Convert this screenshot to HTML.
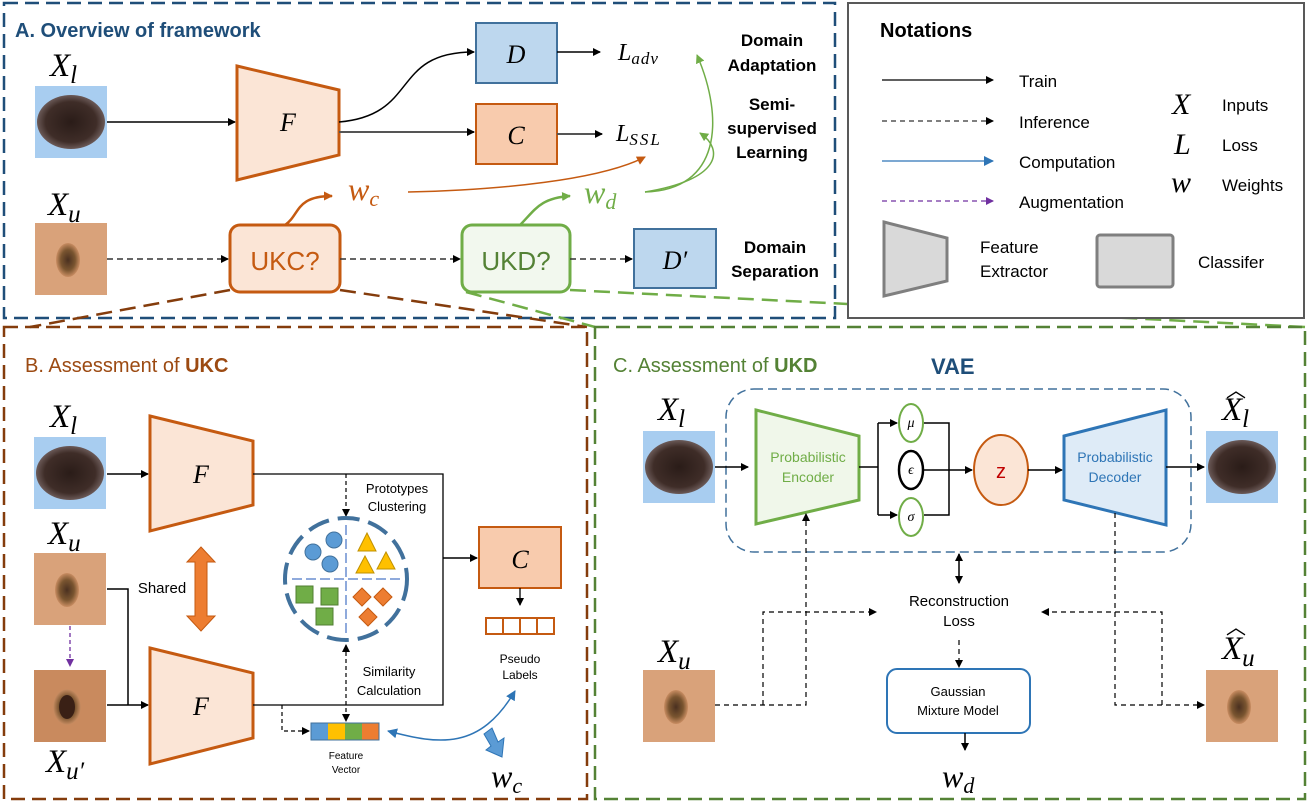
<!DOCTYPE html>
<html><head><meta charset="utf-8"><style>
html,body{margin:0;padding:0;background:#fff;}
svg{display:block;font-family:"Liberation Sans",sans-serif;}
.m{font-family:"Liberation Serif",serif;font-style:italic;}
</style></head><body>
<svg width="1308" height="804" viewBox="0 0 1308 804" xmlns="http://www.w3.org/2000/svg">
<defs>
<marker id="ak" markerWidth="8" markerHeight="8" refX="7" refY="4" orient="auto" markerUnits="userSpaceOnUse"><path d="M0,0 L8,4 L0,8 z" fill="#000"/></marker>
<marker id="akr" markerWidth="8" markerHeight="8" refX="1" refY="4" orient="auto" markerUnits="userSpaceOnUse"><path d="M8,0 L0,4 L8,8 z" fill="#000"/></marker>
<marker id="ab" markerWidth="10" markerHeight="10" refX="9" refY="5" orient="auto" markerUnits="userSpaceOnUse"><path d="M0,0 L10,5 L0,10 z" fill="#2e75b6"/></marker>
<marker id="abr" markerWidth="10" markerHeight="10" refX="1" refY="5" orient="auto" markerUnits="userSpaceOnUse"><path d="M10,0 L0,5 L10,10 z" fill="#2e75b6"/></marker>
<marker id="ap" markerWidth="8" markerHeight="8" refX="7" refY="4" orient="auto" markerUnits="userSpaceOnUse"><path d="M0,0 L8,4 L0,8 z" fill="#7030a0"/></marker>
<marker id="ao" markerWidth="9" markerHeight="9" refX="8" refY="4.5" orient="auto" markerUnits="userSpaceOnUse"><path d="M0,0 L9,4.5 L0,9 z" fill="#c55a11"/></marker>
<marker id="ag" markerWidth="9" markerHeight="9" refX="8" refY="4.5" orient="auto" markerUnits="userSpaceOnUse"><path d="M0,0 L9,4.5 L0,9 z" fill="#70ad47"/></marker>
<radialGradient id="mole" cx="50%" cy="50%" r="50%"><stop offset="0" stop-color="#2a1c18"/><stop offset="0.75" stop-color="#3f2d28"/><stop offset="1" stop-color="#6b5a58"/></radialGradient>
<radialGradient id="spot" cx="50%" cy="50%" r="50%"><stop offset="0" stop-color="#4a3020"/><stop offset="0.6" stop-color="#7a5530"/><stop offset="1" stop-color="#c98d62"/></radialGradient>
<g id="lim"><rect width="72" height="72" fill="#a8cdf0"/><ellipse cx="36" cy="36" rx="34" ry="27" fill="url(#mole)"/></g>
<g id="uim"><rect width="72" height="72" fill="#d9a27a"/><ellipse cx="33" cy="37" rx="12" ry="17" fill="url(#spot)"/></g>
<g id="u2im"><rect width="72" height="72" fill="#c98a5e"/><ellipse cx="33" cy="37" rx="14" ry="18" fill="url(#spot)"/><ellipse cx="33" cy="37" rx="8" ry="12" fill="#3a2015"/></g>
</defs>

<!-- Panel A -->
<rect x="4" y="3" width="831" height="315" fill="none" stroke="#1f4e79" stroke-width="2.5" stroke-dasharray="14,7"/>
<text x="15" y="37" font-size="20" font-weight="bold" fill="#1f4e79">A. Overview of framework</text>
<text class="m" x="50" y="76" font-size="33">X<tspan font-size="25" dy="7">l</tspan></text>
<use href="#lim" x="35" y="86"/>
<line x1="107" y1="122" x2="235" y2="122" stroke="#000" stroke-width="1.5" marker-end="url(#ak)"/>
<polygon points="237,66 339,90 339,155 237,180" fill="#fbe5d6" stroke="#c55a11" stroke-width="3"/>
<text class="m" x="288" y="131" font-size="26" text-anchor="middle">F</text>
<path d="M339,122 C420,115 390,52 474,52" fill="none" stroke="#000" stroke-width="1.5" marker-end="url(#ak)"/>
<line x1="339" y1="132" x2="474" y2="132" stroke="#555" stroke-width="2" marker-end="url(#ak)"/>
<rect x="476" y="23" width="81" height="60" fill="#bdd7ee" stroke="#41719c" stroke-width="2"/>
<text class="m" x="516" y="63" font-size="26" text-anchor="middle">D</text>
<rect x="476" y="104" width="81" height="60" fill="#f8cbad" stroke="#c55a11" stroke-width="2"/>
<text class="m" x="516" y="144" font-size="26" text-anchor="middle">C</text>
<line x1="557" y1="52" x2="600" y2="52" stroke="#000" stroke-width="1.5" marker-end="url(#ak)"/>
<line x1="557" y1="134" x2="602" y2="134" stroke="#555" stroke-width="2" marker-end="url(#ak)"/>
<text class="m" x="618" y="60" font-size="24">L<tspan font-size="17" dy="4" letter-spacing="1">adv</tspan></text>
<text class="m" x="616" y="141" font-size="24">L<tspan font-size="17" dy="4" letter-spacing="2">SSL</tspan></text>
<g font-size="17" font-weight="bold" text-anchor="middle">
<text x="772" y="46">Domain</text><text x="772" y="71">Adaptation</text>
<text x="772" y="110">Semi-</text><text x="772" y="134">supervised</text><text x="772" y="158">Learning</text>
<text x="775" y="253">Domain</text><text x="775" y="277">Separation</text>
</g>
<text class="m" x="48" y="215" font-size="33">X<tspan font-size="25" dy="7">u</tspan></text>
<use href="#uim" x="35" y="223"/>
<line x1="107" y1="259" x2="228" y2="259" stroke="#333" stroke-width="1.5" stroke-dasharray="6,4" marker-end="url(#ak)"/>
<rect x="230" y="225" width="110" height="67" rx="10" fill="#fbe5d6" stroke="#c55a11" stroke-width="3"/>
<text x="285" y="270" font-size="26" fill="#c55a11" text-anchor="middle">UKC?</text>
<line x1="340" y1="259" x2="460" y2="259" stroke="#333" stroke-width="1.5" stroke-dasharray="6,4" marker-end="url(#ak)"/>
<rect x="462" y="225" width="108" height="67" rx="10" fill="#f2f8ee" stroke="#70ad47" stroke-width="3"/>
<text x="516" y="270" font-size="26" fill="#548235" text-anchor="middle">UKD?</text>
<line x1="570" y1="259" x2="632" y2="259" stroke="#333" stroke-width="1.5" stroke-dasharray="6,4" marker-end="url(#ak)"/>
<rect x="634" y="229" width="82" height="59" fill="#bdd7ee" stroke="#41719c" stroke-width="2"/>
<text class="m" x="675" y="269" font-size="26" text-anchor="middle">D′</text>
<path d="M285,225 C300,215 295,196 332,196" fill="none" stroke="#c55a11" stroke-width="2.5" marker-end="url(#ao)"/>
<text class="m" x="348" y="200" font-size="32" fill="#c55a11">w<tspan font-size="22" dy="6">c</tspan></text>
<path d="M408,192 C500,190 600,180 645,157" fill="none" stroke="#c55a11" stroke-width="1.5" marker-end="url(#ao)"/>
<path d="M520,225 C535,210 540,198 570,196" fill="none" stroke="#70ad47" stroke-width="2.5" marker-end="url(#ag)"/>
<text class="m" x="584" y="203" font-size="32" fill="#70ad47">w<tspan font-size="22" dy="6">d</tspan></text>
<path d="M645,192 C720,190 725,120 697,55" fill="none" stroke="#70ad47" stroke-width="1.5" marker-end="url(#ag)"/>
<path d="M645,192 C720,180 725,150 700,133" fill="none" stroke="#70ad47" stroke-width="1.5" marker-end="url(#ag)"/>

<!-- connectors -->
<line x1="230" y1="290" x2="30" y2="327" stroke="#843c0c" stroke-width="2.5" stroke-dasharray="16,8"/>
<line x1="340" y1="290" x2="587" y2="327" stroke="#843c0c" stroke-width="2.5" stroke-dasharray="16,8"/>
<line x1="466" y1="292" x2="595" y2="327" stroke="#70ad47" stroke-width="2.5" stroke-dasharray="16,8"/>
<line x1="570" y1="290" x2="1305" y2="327" stroke="#70ad47" stroke-width="2.5" stroke-dasharray="16,8"/>

<!-- Notations -->
<rect x="848" y="3" width="456" height="315" fill="#fff" stroke="#595959" stroke-width="2"/>
<text x="880" y="37" font-size="20" font-weight="bold">Notations</text>
<line x1="882" y1="80" x2="993" y2="80" stroke="#000" stroke-width="1.3" marker-end="url(#ak)"/>
<line x1="882" y1="121" x2="993" y2="121" stroke="#333" stroke-width="1.3" stroke-dasharray="5,4" marker-end="url(#ak)"/>
<line x1="882" y1="161" x2="993" y2="161" stroke="#2e75b6" stroke-width="1.3" marker-end="url(#ab)"/>
<line x1="882" y1="201" x2="993" y2="201" stroke="#7030a0" stroke-width="1.3" stroke-dasharray="5,4" marker-end="url(#ap)"/>
<g font-size="17"><text x="1019" y="87">Train</text><text x="1019" y="128">Inference</text><text x="1019" y="168">Computation</text><text x="1019" y="208">Augmentation</text>
<text x="1222" y="111">Inputs</text><text x="1222" y="151">Loss</text><text x="1222" y="191">Weights</text>
<text x="980" y="253">Feature</text><text x="980" y="277">Extractor</text><text x="1198" y="268">Classifer</text></g>
<g class="m" font-size="30"><text x="1172" y="114">X</text><text x="1174" y="154">L</text><text x="1171" y="192">w</text></g>
<polygon points="884,222 947,238 947,281 884,296" fill="#d9d9d9" stroke="#7f7f7f" stroke-width="3"/>
<rect x="1097" y="235" width="76" height="52" rx="3" fill="#d9d9d9" stroke="#7f7f7f" stroke-width="3"/>

<!-- Panel B -->
<rect x="4" y="327" width="583" height="472" fill="none" stroke="#843c0c" stroke-width="2.5" stroke-dasharray="14,7"/>
<text x="25" y="372" font-size="20" fill="#9c4a12">B. Assessment of <tspan font-weight="bold">UKC</tspan></text>
<text class="m" x="50" y="427" font-size="33">X<tspan font-size="25" dy="7">l</tspan></text>
<use href="#lim" x="34" y="437"/>
<text class="m" x="48" y="544" font-size="33">X<tspan font-size="25" dy="7">u</tspan></text>
<use href="#uim" x="34" y="553"/>
<line x1="70" y1="626" x2="70" y2="666" stroke="#7030a0" stroke-width="1.3" stroke-dasharray="4,3" marker-end="url(#ap)"/>
<use href="#u2im" x="34" y="670"/>
<text class="m" x="46" y="772" font-size="33">X<tspan font-size="25" dy="7">u′</tspan></text>
<line x1="107" y1="474" x2="148" y2="474" stroke="#000" stroke-width="1.5" marker-end="url(#ak)"/>
<polyline points="107,589 128,589 128,705" fill="none" stroke="#000" stroke-width="1.5"/>
<line x1="107" y1="705" x2="148" y2="705" stroke="#000" stroke-width="1.5" marker-end="url(#ak)"/>
<polygon points="150,416 253,441 253,505 150,531" fill="#fbe5d6" stroke="#c55a11" stroke-width="3"/>
<text class="m" x="201" y="483" font-size="26" text-anchor="middle">F</text>
<polygon points="150,648 253,673 253,738 150,764" fill="#fbe5d6" stroke="#c55a11" stroke-width="3"/>
<text class="m" x="201" y="715" font-size="26" text-anchor="middle">F</text>
<polygon points="201,547 215,562 207,562 207,616 215,616 201,631 187,616 195,616 195,562 187,562" fill="#ed7d31" stroke="#c55a11" stroke-width="1"/>
<text x="162" y="593" font-size="15" text-anchor="middle">Shared</text>
<polyline points="253,474 443,474 443,705 253,705" fill="none" stroke="#000" stroke-width="1.3"/>
<line x1="443" y1="558" x2="477" y2="558" stroke="#000" stroke-width="1.5" marker-end="url(#ak)"/>
<rect x="479" y="527" width="82" height="61" fill="#f8cbad" stroke="#c55a11" stroke-width="2"/>
<text class="m" x="520" y="568" font-size="26" text-anchor="middle">C</text>
<line x1="520" y1="588" x2="520" y2="605" stroke="#000" stroke-width="1.3" marker-end="url(#ak)"/>
<g fill="#fff" stroke="#c55a11" stroke-width="2"><rect x="486" y="618" width="17" height="16"/><rect x="503" y="618" width="17" height="16"/><rect x="520" y="618" width="17" height="16"/><rect x="537" y="618" width="17" height="16"/></g>
<text x="520" y="663" font-size="12" text-anchor="middle">Pseudo</text><text x="520" y="679" font-size="12" text-anchor="middle">Labels</text>
<line x1="346" y1="474" x2="346" y2="516" stroke="#000" stroke-width="1.2" stroke-dasharray="4,3" marker-end="url(#ak)"/>
<text x="397" y="493" font-size="13" text-anchor="middle">Prototypes</text><text x="397" y="511" font-size="13" text-anchor="middle">Clustering</text>
<circle cx="346" cy="579" r="61" fill="none" stroke="#41719c" stroke-width="4" stroke-dasharray="22,9"/>
<line x1="292" y1="579" x2="400" y2="579" stroke="#8faadc" stroke-width="2" stroke-dasharray="10,4"/>
<line x1="346" y1="525" x2="346" y2="633" stroke="#8faadc" stroke-width="2" stroke-dasharray="10,4"/>
<g fill="#5b9bd5" stroke="#41719c" stroke-width="1"><circle cx="313" cy="552" r="8"/><circle cx="334" cy="540" r="8"/><circle cx="330" cy="564" r="8"/></g>
<g fill="#ffc000" stroke="#bf9000" stroke-width="1"><polygon points="367,533 376,551 358,551"/><polygon points="365,556 374,573 356,573"/><polygon points="386,552 395,569 377,569"/></g>
<g fill="#70ad47" stroke="#507e32" stroke-width="1"><rect x="296" y="586" width="17" height="17"/><rect x="321" y="588" width="17" height="17"/><rect x="316" y="608" width="17" height="17"/></g>
<g fill="#ed7d31" stroke="#c55a11" stroke-width="1"><polygon points="362,588 371,597 362,606 353,597"/><polygon points="383,588 392,597 383,606 374,597"/><polygon points="368,608 377,617 368,626 359,617"/></g>
<line x1="346" y1="645" x2="346" y2="721" stroke="#000" stroke-width="1.2" stroke-dasharray="4,3" marker-start="url(#akr)" marker-end="url(#ak)"/>
<text x="389" y="676" font-size="13" text-anchor="middle">Similarity</text><text x="389" y="695" font-size="13" text-anchor="middle">Calculation</text>
<polyline points="282,705 282,731 309,731" fill="none" stroke="#000" stroke-width="1.2" stroke-dasharray="4,3" marker-end="url(#ak)"/>
<rect x="311" y="723" width="17" height="17" fill="#5b9bd5"/><rect x="328" y="723" width="17" height="17" fill="#ffc000"/><rect x="345" y="723" width="17" height="17" fill="#70ad47"/><rect x="362" y="723" width="17" height="17" fill="#ed7d31"/>
<rect x="311" y="723" width="68" height="17" fill="none" stroke="#41719c" stroke-width="1"/>
<text x="346" y="759" font-size="10" text-anchor="middle">Feature</text><text x="346" y="773" font-size="10" text-anchor="middle">Vector</text>
<path d="M388,731 C440,745 480,750 515,691" fill="none" stroke="#2e75b6" stroke-width="1.5" marker-start="url(#abr)" marker-end="url(#ab)"/>
<polygon points="484,734 492,728 498,742 504,738 502,757 486,750 491,746" fill="#5b9bd5" stroke="#2e75b6" stroke-width="1"/>
<text class="m" x="491" y="787" font-size="32">w<tspan font-size="22" dy="6">c</tspan></text>

<!-- Panel C -->
<rect x="595" y="327" width="710" height="472" fill="none" stroke="#548235" stroke-width="2.5" stroke-dasharray="14,7"/>
<text x="613" y="372" font-size="20" fill="#548235">C. Assessment of <tspan font-weight="bold">UKD</tspan></text>
<text x="931" y="374" font-size="22" font-weight="bold" fill="#1f4e79">VAE</text>
<rect x="726" y="389" width="465" height="163" rx="28" fill="none" stroke="#41719c" stroke-width="1.5" stroke-dasharray="9,5"/>
<text class="m" x="658" y="420" font-size="33">X<tspan font-size="25" dy="7">l</tspan></text>
<use href="#lim" x="643" y="431"/>
<line x1="715" y1="467" x2="748" y2="467" stroke="#000" stroke-width="1.5" marker-end="url(#ak)"/>
<polygon points="756,410 859,436 859,500 756,524" fill="#f0f7ea" stroke="#70ad47" stroke-width="3"/>
<text x="808" y="462" font-size="14" fill="#70ad47" text-anchor="middle">Probabilistic</text><text x="808" y="482" font-size="14" fill="#70ad47" text-anchor="middle">Encoder</text>
<polyline points="859,467 878,467" fill="none" stroke="#000" stroke-width="1.5"/>
<line x1="878" y1="423" x2="878" y2="515" stroke="#000" stroke-width="1.5"/>
<line x1="878" y1="423" x2="897" y2="423" stroke="#000" stroke-width="1.5" marker-end="url(#ak)"/>
<line x1="878" y1="515" x2="897" y2="515" stroke="#000" stroke-width="1.5" marker-end="url(#ak)"/>
<polyline points="924,423 949,423 949,515 924,515" fill="none" stroke="#000" stroke-width="1.5"/>
<line x1="924" y1="470" x2="972" y2="470" stroke="#000" stroke-width="1.5" marker-end="url(#ak)"/>
<ellipse cx="911" cy="423" rx="12" ry="19" fill="#fff" stroke="#70ad47" stroke-width="2"/>
<ellipse cx="911" cy="470" rx="12" ry="19" fill="#fff" stroke="#000" stroke-width="2.5"/>
<ellipse cx="911" cy="517" rx="12" ry="19" fill="#fff" stroke="#70ad47" stroke-width="2"/>
<g class="m" font-size="14" text-anchor="middle"><text x="911" y="427">μ</text><text x="911" y="474">ϵ</text><text x="911" y="521">σ</text></g>
<ellipse cx="1001" cy="470" rx="27" ry="35" fill="#fbe5d6" stroke="#c55a11" stroke-width="2"/>
<text x="1001" y="478" font-size="20" fill="#c00000" text-anchor="middle">z</text>
<line x1="1028" y1="470" x2="1062" y2="470" stroke="#000" stroke-width="1.5" marker-end="url(#ak)"/>
<polygon points="1064,436 1166,410 1166,525 1064,500" fill="#deebf7" stroke="#2e75b6" stroke-width="3"/>
<text x="1115" y="462" font-size="14" fill="#2e75b6" text-anchor="middle">Probabilistic</text><text x="1115" y="482" font-size="14" fill="#2e75b6" text-anchor="middle">Decoder</text>
<line x1="1166" y1="467" x2="1204" y2="467" stroke="#000" stroke-width="1.5" marker-end="url(#ak)"/>
<use href="#lim" x="1206" y="431"/>
<text class="m" x="1222" y="420" font-size="33">X<tspan font-size="25" dy="7">l</tspan></text>
<text x="1226" y="397" font-size="20" fill="#000">︿</text>
<line x1="959" y1="554" x2="959" y2="583" stroke="#000" stroke-width="1.5" marker-start="url(#akr)" marker-end="url(#ak)"/>
<text x="959" y="606" font-size="15" text-anchor="middle">Reconstruction</text><text x="959" y="626" font-size="15" text-anchor="middle">Loss</text>
<text class="m" x="658" y="662" font-size="33">X<tspan font-size="25" dy="7">u</tspan></text>
<use href="#uim" x="643" y="670"/>
<polyline points="715,705 806,705 806,514" fill="none" stroke="#000" stroke-width="1.2" stroke-dasharray="5,4" marker-end="url(#ak)"/>
<polyline points="763,705 763,612 876,612" fill="none" stroke="#000" stroke-width="1.2" stroke-dasharray="5,4" marker-end="url(#ak)"/>
<line x1="959" y1="640" x2="959" y2="667" stroke="#000" stroke-width="1.2" stroke-dasharray="5,4" marker-end="url(#ak)"/>
<rect x="887" y="669" width="143" height="64" rx="10" fill="#fff" stroke="#2e75b6" stroke-width="2"/>
<text x="958" y="696" font-size="13" text-anchor="middle">Gaussian</text><text x="958" y="715" font-size="13" text-anchor="middle">Mixture Model</text>
<line x1="965" y1="733" x2="965" y2="750" stroke="#000" stroke-width="1.5" marker-end="url(#ak)"/>
<text class="m" x="942" y="787" font-size="32">w<tspan font-size="22" dy="6">d</tspan></text>
<polyline points="1115,513 1115,705 1204,705" fill="none" stroke="#000" stroke-width="1.2" stroke-dasharray="5,4" marker-end="url(#ak)"/>
<polyline points="1162,705 1162,612 1042,612" fill="none" stroke="#000" stroke-width="1.2" stroke-dasharray="5,4" marker-end="url(#ak)"/>
<use href="#uim" x="1206" y="670"/>
<text class="m" x="1222" y="659" font-size="33">X<tspan font-size="25" dy="7">u</tspan></text>
<text x="1226" y="634" font-size="20" fill="#000">︿</text>
</svg>
</body></html>
